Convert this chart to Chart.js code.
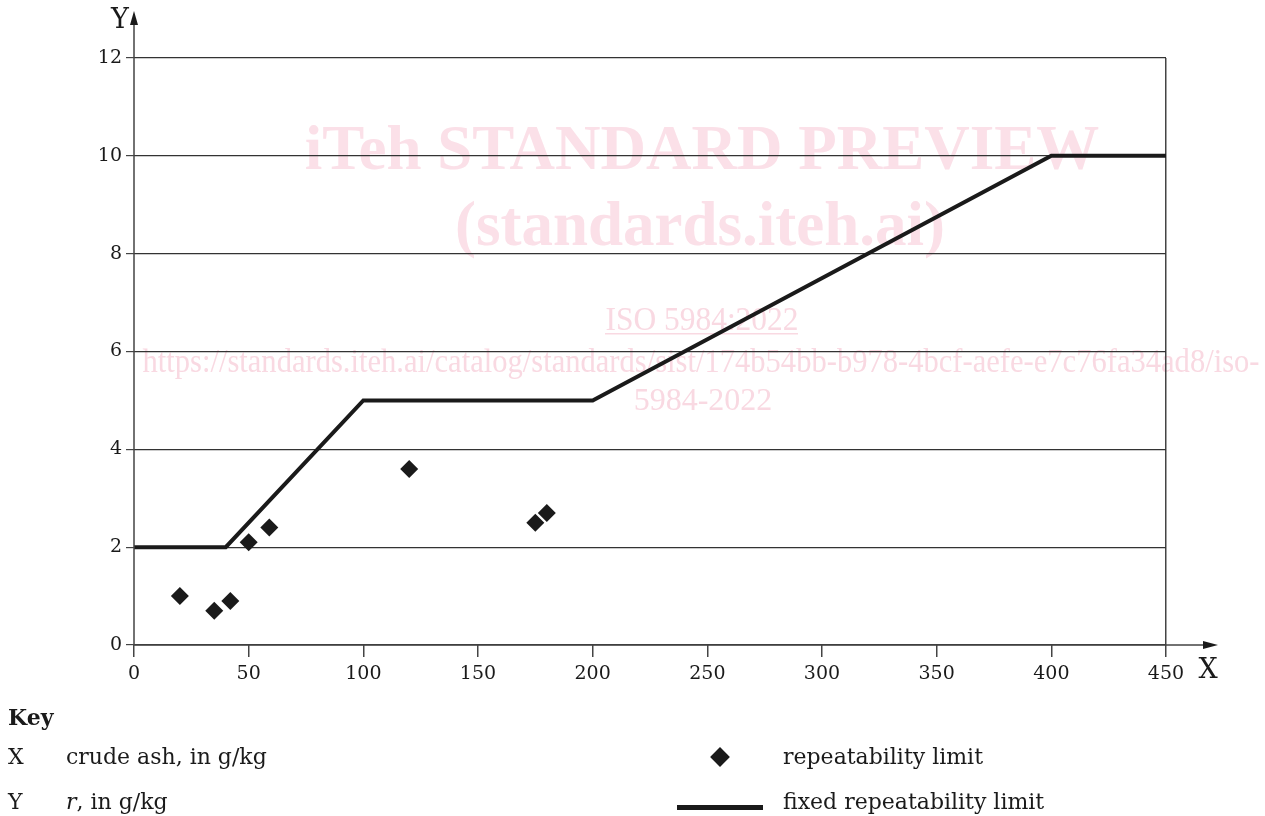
<!DOCTYPE html>
<html lang="en">
<head>
  <meta charset="UTF-8">
  <title>Repeatability limit - crude ash</title>
  <script src="https://cdn.jsdelivr.net/npm/chart.js"></script>
  <style>
    body {
      margin: 0;
      background: #fff;
      font-family: "DejaVu Serif", serif;
      color: #1a1a1a;
    }
    .wrap {
      position: relative;
      width: 1265px;
      height: 816px;
    }
    canvas {
      position: absolute;
      left: 0;
      top: 0;
    }
    .key {
      position: absolute;
      font-size: 22px;
      line-height: 1;
      white-space: nowrap;
    }
    .diamond {
      position: absolute;
      width: 14px;
      height: 14px;
      background: #1a1a1a;
      transform: rotate(45deg);
    }
    .bar {
      position: absolute;
      height: 5px;
      background: #1a1a1a;
    }
  </style>
</head>
<body>
  <div class="wrap">
    <canvas id="chartCanvas" width="1265" height="816"></canvas>

    <div class="key" style="left:8px; top:706px; font-weight:bold;">Key</div>
    <div class="key" style="left:8px; top:746px;">X</div>
    <div class="key" style="left:66px; top:746px;">crude ash, in g/kg</div>
    <div class="key" style="left:8px; top:791px;">Y</div>
    <div class="key" style="left:66px; top:791px;"><i>r</i>, in g/kg</div>

    <div class="diamond" style="left:713px; top:750px;"></div>
    <div class="key" style="left:783px; top:746px;">repeatability limit</div>
    <div class="bar" style="left:677px; top:805px; width:86px;"></div>
    <div class="key" style="left:783px; top:791px;">fixed repeatability limit</div>
  </div>

  <script>
    // measured results (crude ash g/kg, r g/kg)
    const ashX = [20, 35, 42, 50, 59, 120, 175, 180];
    const repeatY = [1.0, 0.7, 0.9, 2.1, 2.4, 3.6, 2.5, 2.7];

    // fixed repeatability limit, piecewise
    const fixedX = [0, 40, 100, 200, 400, 450];
    const fixedY = [2, 2, 5, 5, 10, 10];

    const xTicks = [0, 50, 100, 150, 200, 250, 300, 350, 400, 450];
    const yTicks = [0, 2, 4, 6, 8, 10, 12];

    const axisColor = '#444';
    const tickFont = { family: 'DejaVu Serif', size: 19 };
    const wmFamily = '"Liberation Serif", "Times New Roman", Tinos, serif';

    // pink watermark behind the plot
    const watermark = {
      id: 'watermark',
      beforeDraw(chart) {
        const c = chart.ctx;
        c.save();
        c.textAlign = 'center';
        c.textBaseline = 'alphabetic';
        c.fillStyle = '#fbe0e8';
        c.font = 'bold 63px ' + wmFamily;
        c.fillText('iTeh STANDARD PREVIEW', 702, 169, 805);
        c.fillText('(standards.iteh.ai)', 700, 245, 506);
        c.fillStyle = '#f9d9e2';
        c.font = '33px ' + wmFamily;
        c.fillText('ISO 5984:2022', 702, 330, 193);
        c.fillRect(605, 333, 193, 1.5);
        c.fillText('https://standards.iteh.ai/catalog/standards/sist/174b54bb-b978-4bcf-aefe-e7c76fa34ad8/iso-', 701, 372, 1117);
        c.font = '32px ' + wmFamily;
        c.fillText('5984-2022', 703, 410, 139);
        c.restore();
      }
    };

    // axis arrows and axis names
    const axisArrows = {
      id: 'axisArrows',
      afterDraw(chart) {
        const c = chart.ctx;
        const a = chart.chartArea;
        const x0 = chart.scales.x.getPixelForValue(0);
        const y0 = chart.scales.y.getPixelForValue(0);
        c.save();
        c.strokeStyle = axisColor;
        c.fillStyle = '#1a1a1a';
        c.lineWidth = 1.5;
        c.beginPath();
        c.moveTo(x0, a.bottom);
        c.lineTo(x0, a.top - 40);
        c.moveTo(a.left, y0);
        c.lineTo(a.right + 40, y0);
        c.stroke();
        // y arrow
        c.beginPath();
        c.moveTo(x0, a.top - 47);
        c.lineTo(x0 - 4, a.top - 33);
        c.lineTo(x0 + 4, a.top - 33);
        c.closePath();
        c.fill();
        // x arrow
        c.beginPath();
        c.moveTo(a.right + 52, y0);
        c.lineTo(a.right + 37, y0 - 4);
        c.lineTo(a.right + 37, y0 + 4);
        c.closePath();
        c.fill();
        c.font = '27px "DejaVu Serif"';
        c.textBaseline = 'middle';
        c.textAlign = 'center';
        c.fillText('Y', x0 - 14, a.top - 37);
        c.fillText('X', a.right + 42, y0 + 26);
        c.restore();
      }
    };

    function drawChart() {
      const ctx = document.getElementById('chartCanvas').getContext('2d');

      new Chart(ctx, {
        type: 'scatter',
        data: {
          datasets: [
            {
              label: 'repeatability limit',
              data: ashX.map((x, i) => ({ x, y: repeatY[i] })),
              pointStyle: 'rectRot',
              pointRadius: 9,
              pointHoverRadius: 9,
              backgroundColor: '#1a1a1a',
              borderColor: '#1a1a1a',
              borderWidth: 0,
              order: 1
            },
            {
              type: 'line',
              label: 'fixed repeatability limit',
              data: fixedX.map((x, i) => ({ x, y: fixedY[i] })),
              borderColor: '#1a1a1a',
              borderWidth: 4,
              pointRadius: 0,
              fill: false,
              tension: 0,
              order: 2
            }
          ]
        },
        options: {
          responsive: false,
          animation: false,
          layout: { padding: { left: 0, top: 58, right: 99, bottom: 131 } },
          plugins: {
            legend: { display: false },
            tooltip: { enabled: false }
          },
          scales: {
            x: {
              type: 'linear',
              min: 0,
              max: 450,
              afterBuildTicks: s => { s.ticks = xTicks.map(v => ({ value: v })); },
              afterFit: s => { s.height = 40; },
              border: { display: false },
              grid: {
                color: c => (c.tick && c.tick.value === 450 ? axisColor : 'transparent'),
                tickColor: axisColor,
                tickLength: 12,
                lineWidth: 1.5
              },
              ticks: { color: '#1a1a1a', font: tickFont, padding: 6, maxRotation: 0 }
            },
            y: {
              type: 'linear',
              min: 0,
              max: 12,
              afterBuildTicks: s => { s.ticks = yTicks.map(v => ({ value: v })); },
              afterFit: s => { s.width = 134; },
              border: { display: false },
              grid: {
                color: '#333',
                tickColor: axisColor,
                tickLength: 8,
                lineWidth: 1.2
              },
              ticks: { color: '#1a1a1a', font: tickFont, padding: 4 }
            }
          }
        },
        plugins: [watermark, axisArrows]
      });
    }

    Promise.all([
      document.fonts.load('bold 63px "Liberation Serif"'),
      document.fonts.load('33px "Liberation Serif"')
    ]).then(drawChart, drawChart);
  </script>
</body>
</html>
